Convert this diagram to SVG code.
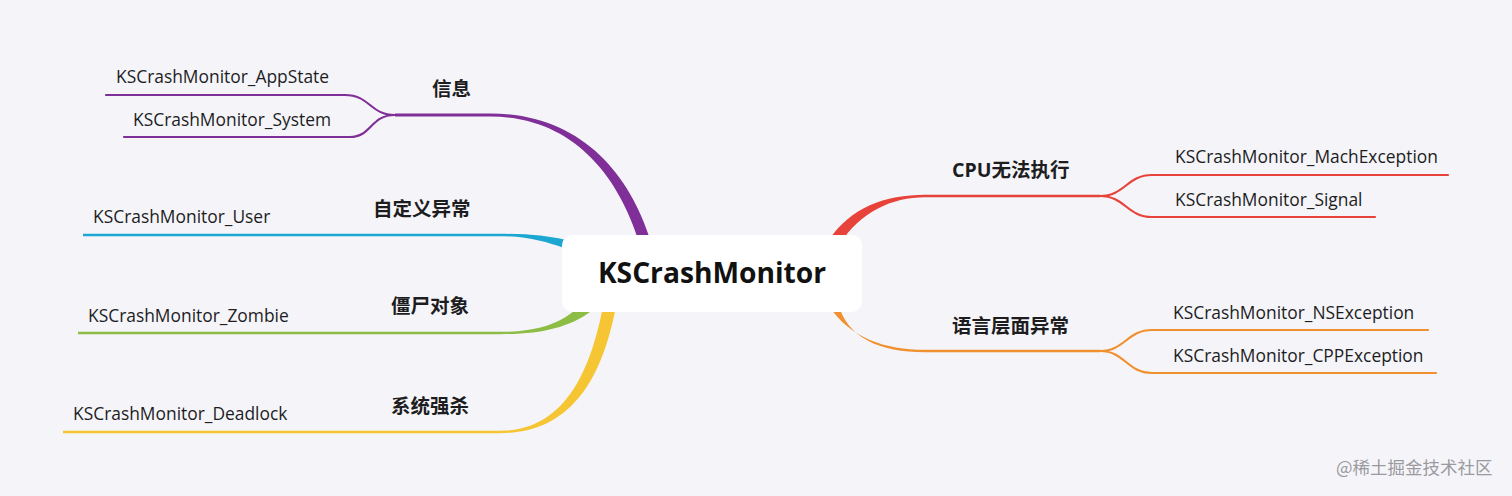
<svg xmlns="http://www.w3.org/2000/svg" width="1512" height="496" viewBox="0 0 1512 496">
<style>
.leaf{font-family:"Open Sans","Noto Sans CJK SC",sans-serif;font-size:17.4px;fill:#1d1d1f}
.lbl{font-family:"Open Sans","Noto Sans CJK SC",sans-serif;font-size:19.5px;font-weight:bold;fill:#1d1d1f}
.root{font-family:"Open Sans","Noto Sans CJK SC",sans-serif;font-size:28.2px;font-weight:bold;fill:#111}
.thin{fill:none;stroke-width:2.2;stroke-linecap:round}
.wm{font-family:"Noto Sans CJK SC",sans-serif;font-size:17.5px;fill:#9a9aa0}
</style>
<rect width="1512" height="496" fill="#f5f5f9"/>
<g id="connectors">
<!-- purple -->
<path d="M395,113.5 L490,113.5 C576,113.5 628,168 651,242 L639,242 C617,172 570,116.5 490,116.5 L395,116.5 Z" fill="#7f2f97"/>
<path class="thin" stroke="#7f2f97" d="M395,115 C370,115 370,95 345,95 L106,95"/>
<path class="thin" stroke="#7f2f97" d="M395,115 C370,115 372,137 350,137 L124,137"/>
<!-- cyan -->
<path d="M83,233.8 L500,233.8 C530,233.8 548,236 566,240 L564,248 C546,242 528,236.2 500,236.2 L83,236.2 Z" fill="#1ba7d2"/>
<!-- green -->
<path d="M78,331.8 L500,331.8 C538,331.8 560,324 580,306 L590,312 C568,328 540,334.2 500,334.2 L78,334.2 Z" fill="#8dbd45"/>
<!-- yellow -->
<path d="M63,430.8 L500,430.8 C556,430.8 588,386 603,306 L616,306 C600,392 562,433.2 500,433.2 L63,433.2 Z" fill="#f6c533"/>
<!-- red -->
<path d="M829,240 C850,208 885,194.8 925,194.8 L1100,194.8 L1100,197.2 L925,197.2 C892,197.2 860,212 840,244 Z" fill="#e8433a"/>
<path class="thin" stroke="#e8433a" d="M1100,196 C1125,196 1127,175 1152,175 L1448,175"/>
<path class="thin" stroke="#e8433a" d="M1100,196 C1125,196 1127,217 1152,217 L1375,217"/>
<!-- orange -->
<path d="M829,306 C850,338 885,349.8 925,349.8 L1100,349.8 L1100,352.2 L925,352.2 C880,352.2 846,338 838,302 Z" fill="#f0902e"/>
<path class="thin" stroke="#f0902e" d="M1100,351 C1125,351 1127,330 1152,330 L1428,330"/>
<path class="thin" stroke="#f0902e" d="M1100,351 C1125,351 1127,373 1152,373 L1436,373"/>
</g>
<g id="root">
<rect x="562" y="235" width="300" height="77" rx="10" fill="#ffffff"/>
<text class="root" x="712" y="283" text-anchor="middle">KSCrashMonitor</text>
</g>
<g id="n-info"><text class="lbl" x="432" y="96">信息</text></g>
<g id="n-appstate"><text class="leaf" x="116" y="83">KSCrashMonitor_AppState</text></g>
<g id="n-system"><text class="leaf" x="133" y="126">KSCrashMonitor_System</text></g>
<g id="n-custom"><text class="lbl" x="373" y="216">自定义异常</text></g>
<g id="n-user"><text class="leaf" x="93" y="223">KSCrashMonitor_User</text></g>
<g id="n-zombie-l"><text class="lbl" x="391" y="313">僵尸对象</text></g>
<g id="n-zombie"><text class="leaf" x="88" y="322">KSCrashMonitor_Zombie</text></g>
<g id="n-kill"><text class="lbl" x="391" y="413">系统强杀</text></g>
<g id="n-deadlock"><text class="leaf" x="73" y="420">KSCrashMonitor_Deadlock</text></g>
<g id="n-cpu"><text class="lbl" x="952" y="177">CPU无法执行</text></g>
<g id="n-mach"><text class="leaf" x="1175" y="163">KSCrashMonitor_MachException</text></g>
<g id="n-signal"><text class="leaf" x="1175" y="206">KSCrashMonitor_Signal</text></g>
<g id="n-lang"><text class="lbl" x="952" y="333">语言层面异常</text></g>
<g id="n-ns"><text class="leaf" x="1173" y="319">KSCrashMonitor_NSException</text></g>
<g id="n-cpp"><text class="leaf" x="1173" y="362">KSCrashMonitor_CPPException</text></g>
<text class="wm" x="1336" y="474">@稀土掘金技术社区</text>
</svg>
